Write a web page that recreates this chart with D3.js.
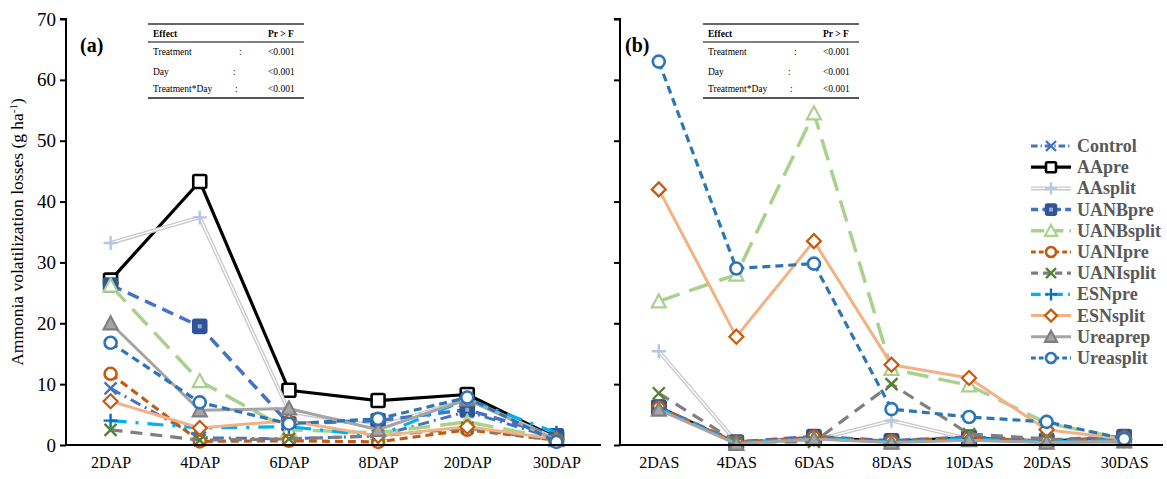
<!DOCTYPE html>
<html>
<head>
<meta charset="utf-8">
<script src="https://cdn.jsdelivr.net/npm/d3@7"></script>
<style>
  body { margin: 0; background: #fff; }
  svg { font-family: "Liberation Serif", "Times New Roman", serif; }
</style>
</head>
<body>
<div id="chart"></div>
<script>
const daysA = ["2DAP", "4DAP", "6DAP", "8DAP", "20DAP", "30DAP"];
const daysB = ["2DAS", "4DAS", "6DAS", "8DAS", "10DAS", "20DAS", "30DAS"];
const yTicks = [0, 10, 20, 30, 40, 50, 60, 70];

// panel (a) values, g/ha
const controlA   = [9.3, 1.2, 1.0, 1.5, 5.5, 1.0];
const aapreA     = [27.1, 43.3, 9.0, 7.3, 8.3, 1.2];
const aasplitA   = [33.2, 37.4, 5.5, 3.0, 7.5, 1.0];
const uanbpreA   = [26.3, 19.5, 3.5, 4.0, 5.8, 1.5];
const uanbsplitA = [26.2, 10.5, 2.5, 2.0, 3.8, 1.0];
const uanipreA   = [11.7, 0.6, 0.7, 0.5, 2.5, 0.8];
const uanisplitA = [2.5, 0.8, 1.0, 1.5, 2.8, 0.7];
const esnpreA    = [4.0, 2.8, 3.0, 1.5, 7.5, 2.0];
const esnsplitA  = [7.2, 2.8, 4.0, 1.5, 3.0, 1.0];
const ureaprepA  = [20.0, 5.7, 6.0, 2.5, 7.5, 0.8];
const ureasplitA = [16.8, 7.0, 3.5, 4.3, 7.8, 0.5];

// panel (b) values, g/ha
const controlB   = [6.0, 0.3, 1.2, 0.6, 1.2, 0.6, 1.3];
const aapreB     = [6.2, 0.3, 1.2, 0.6, 1.2, 0.6, 1.3];
const aasplitB   = [15.4, 0.5, 0.8, 4.0, 1.0, 0.5, 0.5];
const uanbpreB   = [6.2, 0.5, 1.4, 0.7, 1.3, 0.8, 1.4];
const uanbsplitB = [23.6, 28.0, 54.5, 12.5, 9.8, 3.6, 1.0];
const uanipreB   = [6.1, 0.4, 1.3, 0.6, 1.2, 0.6, 1.2];
const uanisplitB = [8.5, 0.5, 0.5, 10.0, 1.8, 1.0, 0.5];
const esnpreB    = [6.0, 0.3, 1.1, 0.5, 1.0, 0.5, 1.0];
const esnsplitB  = [42.0, 17.8, 33.5, 13.2, 11.0, 2.5, 1.0];
const ureaprepB  = [5.8, 0.2, 1.0, 0.4, 0.8, 0.4, 0.6];
const ureasplitB = [63.0, 29.0, 29.8, 5.9, 4.6, 3.8, 1.0];

const seriesNames = ["Control", "AApre", "AAsplit", "UANBpre", "UANBsplit", "UANIpre",
  "UANIsplit", "ESNpre", "ESNsplit", "Ureaprep", "Ureasplit"];
const valuesA = [controlA, aapreA, aasplitA, uanbpreA, uanbsplitA, uanipreA,
  uanisplitA, esnpreA, esnsplitA, ureaprepA, ureasplitA];
const valuesB = [controlB, aapreB, aasplitB, uanbpreB, uanbsplitB, uanipreB,
  uanisplitB, esnpreB, esnsplitB, ureaprepB, ureasplitB];

const effects = ["Treatment", "Day", "Treatment*Day"];
const pValues = ["<0.001", "<0.001", "<0.001"];

// line + marker style per series
const styles = {
  Control:   { stroke: "#4472C4", dash: "11,5,2,5", w: 3, marker: "x", mk: "#4472C4" },
  AApre:     { stroke: "#000000", dash: null, w: 3.2, marker: "square", mk: "#000", fill: "#fff" },
  AAsplit:   { stroke: "#C9C9C9", dash: null, w: 4, double: true, marker: "plus", mk: "#B4C7E7" },
  UANBpre:   { stroke: "#4472C4", dash: "12,7", w: 3.5, marker: "square", mk: "#2F5597", fill: "#2F5597", inner: true },
  UANBsplit: { stroke: "#A9D18E", dash: "22,10", w: 3.5, marker: "triangle", mk: "#A9D18E", fill: "#fff" },
  UANIpre:   { stroke: "#C55A11", dash: "8,5", w: 3.2, marker: "circle", mk: "#C55A11", fill: "#fff" },
  UANIsplit: { stroke: "#7F7F7F", dash: "12,8", w: 3.2, marker: "x", mk: "#548235" },
  ESNpre:    { stroke: "#00B0F0", dash: "16,9,3,9", w: 3.2, marker: "plus", mk: "#0070C0" },
  ESNsplit:  { stroke: "#F4B183", dash: null, w: 3, marker: "diamond", mk: "#C55A11", fill: "#fff" },
  Ureaprep:  { stroke: "#A5A5A5", dash: null, w: 3, marker: "triangle", mk: "#7F7F7F", fill: "#A5A5A5" },
  Ureasplit: { stroke: "#2E75B6", dash: "8,5", w: 3.2, marker: "circle", mk: "#2E75B6", fill: "#fff" }
};

const W = 1167, H = 479;
const svg = d3.select("#chart").append("svg").attr("width", W).attr("height", H);

const y = d3.scaleLinear().domain([0, 70]).range([445, 19]);

function drawMarker(g, s, cx, cy, size) {
  const r = size / 2;
  const m = g.append("g").attr("transform", `translate(${cx},${cy})`);
  if (s.marker === "square") {
    m.append("rect").attr("x", -r).attr("y", -r).attr("width", size).attr("height", size)
      .attr("rx", 1.5).attr("fill", s.fill).attr("stroke", s.mk).attr("stroke-width", 2.6);
    if (s.inner) {
      m.append("rect").attr("x", -2).attr("y", -2).attr("width", 4).attr("height", 4).attr("fill", "#8FAADC");
    }
  } else if (s.marker === "circle") {
    m.append("circle").attr("r", r).attr("fill", s.fill).attr("stroke", s.mk).attr("stroke-width", 2.6);
  } else if (s.marker === "triangle") {
    m.append("path").attr("d", `M0,${-r - 1}L${r + 1},${r}L${-r - 1},${r}Z`)
      .attr("fill", s.fill).attr("stroke", s.mk).attr("stroke-width", 2.2);
  } else if (s.marker === "diamond") {
    m.append("path").attr("d", `M0,${-r - 1}L${r + 1},0L0,${r + 1}L${-r - 1},0Z`)
      .attr("fill", s.fill).attr("stroke", s.mk).attr("stroke-width", 2.2);
  } else if (s.marker === "x") {
    m.append("path").attr("d", `M${-r},${-r}L${r},${r}M${-r},${r}L${r},${-r}`)
      .attr("stroke", s.mk).attr("stroke-width", 2.4);
  } else if (s.marker === "plus") {
    m.append("path").attr("d", `M${-r - 1},0L${r + 1},0M0,${-r - 1}L0,${r + 1}`)
      .attr("stroke", s.mk).attr("stroke-width", 2.4);
  }
}

function drawPanel(days, values, range, opts) {
  const x = d3.scalePoint().domain(days).range(range).padding(0.5);
  const g = svg.append("g");

  const line = d3.line().x((d, i) => x(days[i])).y(d => y(d));

  seriesNames.forEach((name, k) => {
    const s = styles[name];
    const data = values[k];
    g.append("path").datum(data).attr("d", line).attr("fill", "none")
      .attr("stroke", s.stroke).attr("stroke-width", s.w)
      .attr("stroke-dasharray", s.dash).attr("stroke-linejoin", "round");
    if (s.double) {
      g.append("path").datum(data).attr("d", line).attr("fill", "none")
        .attr("stroke", "#fff").attr("stroke-width", 1.3);
    }
    data.forEach((v, i) => drawMarker(g, s, x(days[i]), y(v), name === "UANBpre" || name === "AApre" ? 13 : 12));
  });

  // y axis
  const yAxis = g.append("g").attr("transform", `translate(${range[0]},0)`)
    .call(d3.axisLeft(y).tickValues(yTicks).tickSize(6).tickFormat(opts.yLabels ? d3.format("d") : ""));
  yAxis.select(".domain").attr("stroke", "#000").attr("stroke-width", 2).attr("d", `M-6,19H0V445`);
  yAxis.selectAll(".tick line").attr("stroke", "#000").attr("stroke-width", 2);
  yAxis.selectAll(".tick text").attr("font-size", 19).attr("fill", "#000").attr("x", -10)
    .attr("font-family", "Liberation Serif, serif");

  // x axis
  const xAxis = g.append("g").attr("transform", "translate(0,445)")
    .call(d3.axisBottom(x).tickSize(0).tickPadding(12));
  xAxis.select(".domain").attr("stroke", "#000").attr("stroke-width", 2)
    .attr("d", `M${range[0]},0H${range[1]}`);
  xAxis.selectAll(".tick text").attr("font-size", 16).attr("fill", "#000")
    .attr("font-family", "Liberation Serif, serif");

  // panel label
  g.append("text").attr("x", opts.labelX).attr("y", 52).attr("font-size", 20)
    .attr("font-weight", "bold").text(opts.label);

  // ANOVA table
  const tx = opts.tableX;
  const t = g.append("g").attr("font-size", 9.5).attr("fill", "#000");
  t.append("line").attr("x1", tx).attr("x2", tx + 156).attr("y1", 24).attr("y2", 24)
    .attr("stroke", "#333").attr("stroke-width", 1.5);
  t.append("line").attr("x1", tx).attr("x2", tx + 156).attr("y1", 42).attr("y2", 42)
    .attr("stroke", "#000").attr("stroke-width", 1.2);
  t.append("line").attr("x1", tx).attr("x2", tx + 156).attr("y1", 98).attr("y2", 98)
    .attr("stroke", "#555").attr("stroke-width", 2);
  t.append("text").attr("x", tx + 5).attr("y", 37).attr("font-weight", "bold").text("Effect");
  t.append("text").attr("x", tx + 120).attr("y", 37).attr("font-weight", "bold").text("Pr > F");
  const rowY = [55, 75, 92];
  const colonX = [91, 85, 87];
  effects.forEach((e, i) => {
    t.append("text").attr("x", tx + 5).attr("y", rowY[i]).text(e);
    t.append("text").attr("x", tx + colonX[i]).attr("y", rowY[i]).text(":");
    t.append("text").attr("x", tx + 120).attr("y", rowY[i]).text(pValues[i]);
  });
}

drawPanel(daysA, valuesA, [66, 601], { yLabels: true, label: "(a)", labelX: 80, tableX: 148 });
drawPanel(daysB, valuesB, [620, 1163], { yLabels: false, label: "(b)", labelX: 625, tableX: 703 });

// y axis title
svg.append("text")
  .attr("transform", "translate(23,232) rotate(-90)")
  .attr("text-anchor", "middle").attr("font-size", 17.5)
  .text("Ammonia volatilization losses (g ha")
  .append("tspan").attr("baseline-shift", "super").attr("font-size", 11).text("-1")
  .select(function() { return this.parentNode; })
  .append("tspan").text(")");

// legend
const legend = svg.append("g").attr("transform", "translate(1031,146)");
seriesNames.forEach((name, i) => {
  const s = styles[name];
  const row = legend.append("g").attr("transform", `translate(0,${i * 21.2})`);
  row.append("line").attr("x1", 0).attr("x2", 40).attr("y1", 0).attr("y2", 0)
    .attr("stroke", s.stroke).attr("stroke-width", s.w)
    .attr("stroke-dasharray", s.dash ? s.dash.split(",").map(v => +v * 0.6).join(",") : null);
  if (s.double) {
    row.append("line").attr("x1", 0).attr("x2", 40).attr("y1", 0).attr("y2", 0)
      .attr("stroke", "#fff").attr("stroke-width", 1.3);
  }
  drawMarker(row, s, 20, 0, 10);
  row.append("text").attr("x", 46).attr("y", 6).attr("font-size", 18)
    .attr("font-weight", "bold").attr("fill", "#595959").text(name);
});
</script>
</body>
</html>
